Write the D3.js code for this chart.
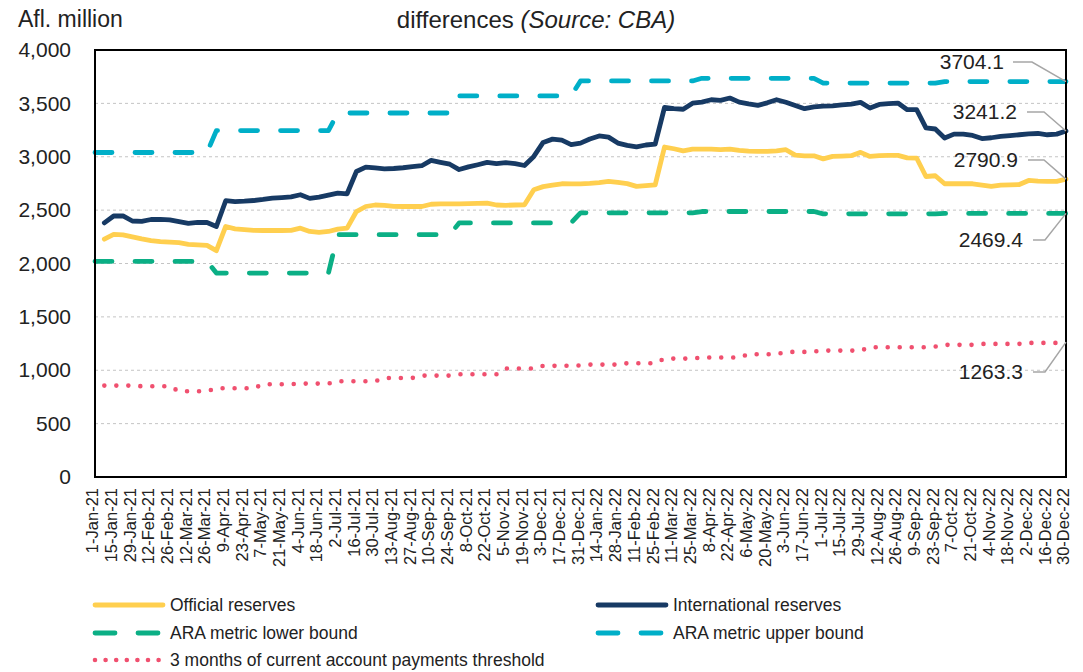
<!DOCTYPE html>
<html>
<head>
<meta charset="utf-8">
<script src="https://cdn.jsdelivr.net/npm/d3@7/dist/d3.min.js"></script>
<style>
  body { margin: 0; background: #fff; }
  svg { display: block; font-family: "Liberation Sans", Arial, sans-serif; }
</style>
</head>
<body>
<svg id="chart" width="1083" height="672"></svg>
<script>
const WEEKS = [
    "1-Jan-21", "8-Jan-21", "15-Jan-21", "22-Jan-21", "29-Jan-21", "5-Feb-21", "12-Feb-21", "19-Feb-21", "26-Feb-21",
    "5-Mar-21", "12-Mar-21", "19-Mar-21", "26-Mar-21", "2-Apr-21", "9-Apr-21", "16-Apr-21", "23-Apr-21", "30-Apr-21",
    "7-May-21", "14-May-21", "21-May-21", "28-May-21", "4-Jun-21", "11-Jun-21", "18-Jun-21", "25-Jun-21",
    "2-Jul-21", "9-Jul-21", "16-Jul-21", "23-Jul-21", "30-Jul-21", "6-Aug-21", "13-Aug-21", "20-Aug-21", "27-Aug-21",
    "3-Sep-21", "10-Sep-21", "17-Sep-21", "24-Sep-21", "1-Oct-21", "8-Oct-21", "15-Oct-21", "22-Oct-21", "29-Oct-21",
    "5-Nov-21", "12-Nov-21", "19-Nov-21", "26-Nov-21", "3-Dec-21", "10-Dec-21", "17-Dec-21", "24-Dec-21", "31-Dec-21",
    "7-Jan-22", "14-Jan-22", "21-Jan-22", "28-Jan-22", "4-Feb-22", "11-Feb-22", "18-Feb-22", "25-Feb-22",
    "4-Mar-22", "11-Mar-22", "18-Mar-22", "25-Mar-22", "1-Apr-22", "8-Apr-22", "15-Apr-22", "22-Apr-22", "29-Apr-22",
    "6-May-22", "13-May-22", "20-May-22", "27-May-22", "3-Jun-22", "10-Jun-22", "17-Jun-22", "24-Jun-22",
    "1-Jul-22", "8-Jul-22", "15-Jul-22", "22-Jul-22", "29-Jul-22", "5-Aug-22", "12-Aug-22", "19-Aug-22", "26-Aug-22",
    "2-Sep-22", "9-Sep-22", "16-Sep-22", "23-Sep-22", "30-Sep-22", "7-Oct-22", "14-Oct-22", "21-Oct-22", "28-Oct-22",
    "4-Nov-22", "11-Nov-22", "18-Nov-22", "25-Nov-22", "2-Dec-22", "9-Dec-22", "16-Dec-22", "23-Dec-22", "30-Dec-22"
];

const OFFICIAL = [
    null, 2228, 2272, 2268, 2250, 2230, 2215, 2205, 2200, 2195, 2180, 2175, 2170, 2120,
    2347, 2325, 2318, 2310, 2309, 2309, 2309, 2310, 2331, 2300, 2292, 2300, 2322, 2331,
    2487, 2534, 2548, 2545, 2536, 2534, 2534, 2534, 2555, 2559, 2559, 2559, 2561, 2563, 2566,
    2548, 2545, 2548, 2550, 2691, 2720, 2735, 2747, 2745, 2746, 2751, 2758, 2769, 2760, 2748,
    2723, 2730, 2737, 3091, 3075, 3055, 3072, 3072, 3072, 3066, 3072, 3060, 3052, 3050, 3050,
    3055, 3066, 3015, 3009, 3009, 2980, 3003, 3006, 3010, 3041, 3003, 3010, 3013, 3013, 2990,
    2988, 2815, 2822, 2747, 2747, 2747, 2747, 2735, 2722, 2735, 2737, 2740, 2778, 2772, 2769,
    2769, 2790.9
];

const INTERNATIONAL = [
    null, 2380, 2445, 2447, 2398, 2394, 2412, 2414, 2409, 2392, 2375, 2385, 2384, 2347,
    2588, 2580, 2584, 2590, 2600, 2613, 2618, 2624, 2644, 2610, 2622, 2640, 2660, 2653,
    2862, 2903, 2895, 2886, 2890, 2897, 2908, 2916, 2966, 2948, 2930, 2880, 2905, 2925, 2947,
    2935, 2945, 2935, 2918, 3003, 3134, 3165, 3155, 3113, 3128, 3166, 3195, 3184, 3128, 3106,
    3092, 3110, 3119, 3462, 3450, 3445, 3502, 3512, 3534, 3528, 3550, 3512, 3495, 3481, 3505,
    3534, 3510, 3480, 3450, 3467, 3474, 3477, 3485, 3494, 3509, 3456, 3490, 3497, 3503, 3441,
    3441, 3270, 3260, 3175, 3212, 3212, 3200, 3170, 3178, 3191, 3198, 3206, 3215, 3218, 3206,
    3212, 3241.2
];

const ARA_LOWER = [
    2020, 2020, 2020, 2020, 2020, 2020, 2020, 2020, 2020, 2020, 2020, 2020, 2020,
    1910, 1910, 1910, 1910, 1910, 1910, 1910, 1910, 1910, 1910, 1910, 1910, 1910,
    2270, 2270, 2270, 2270, 2270, 2270, 2270, 2270, 2270, 2270, 2270, 2270, 2270,
    2380, 2380, 2380, 2380, 2380, 2380, 2380, 2380, 2380, 2380, 2380, 2380, 2380,
    2475, 2475, 2475, 2475, 2475, 2475, 2475, 2475, 2475, 2475, 2475, 2475, 2475,
    2487, 2487, 2487, 2487, 2487, 2487, 2487, 2487, 2487, 2487, 2487, 2487, 2487,
    2465, 2465, 2465, 2465, 2465, 2465, 2465, 2465, 2465, 2465, 2465, 2465, 2465,
    2469.4, 2469.4, 2469.4, 2469.4, 2469.4, 2469.4, 2469.4, 2469.4, 2469.4, 2469.4, 2469.4, 2469.4, 2469.4, 2469.4
];

const ARA_UPPER = [
    3040, 3040, 3040, 3040, 3040, 3040, 3040, 3040, 3040, 3040, 3040, 3040, 3040,
    3245, 3245, 3245, 3245, 3245, 3245, 3245, 3245, 3245, 3245, 3245, 3245, 3245,
    3410, 3410, 3410, 3410, 3410, 3410, 3410, 3410, 3410, 3410, 3410, 3410, 3410,
    3570, 3570, 3570, 3570, 3570, 3570, 3570, 3570, 3570, 3570, 3570, 3570, 3570,
    3710, 3710, 3710, 3710, 3710, 3710, 3710, 3710, 3710, 3710, 3710, 3710, 3710,
    3735, 3735, 3735, 3735, 3735, 3735, 3735, 3735, 3735, 3735, 3735, 3735, 3735,
    3690, 3690, 3690, 3690, 3690, 3690, 3690, 3690, 3690, 3690, 3690, 3690, 3690,
    3704.1, 3704.1, 3704.1, 3704.1, 3704.1, 3704.1, 3704.1, 3704.1, 3704.1, 3704.1, 3704.1, 3704.1, 3704.1, 3704.1
];

const THRESHOLD = [
    null, 856, 856, 856, 856, 850, 850, 850, 850, 803, 803, 803, 803,
    831, 831, 831, 831, 831, 869, 869, 869, 869, 875, 875, 875, 875,
    897, 897, 897, 897, 897, 928, 928, 928, 928, 950, 950, 950, 950,
    963, 963, 963, 963, 963, 1016, 1016, 1016, 1016, 1041, 1041, 1041, 1044, 1044,
    1053, 1053, 1053, 1053, 1066, 1066, 1066, 1066, 1109, 1109, 1109, 1109,
    1119, 1119, 1119, 1119, 1119, 1150, 1150, 1150, 1150, 1172, 1172, 1172, 1175,
    1184, 1184, 1184, 1184, 1184, 1216, 1216, 1216, 1216, 1216, 1216, 1216, 1222,
    1238, 1238, 1238, 1238, 1247, 1247, 1247, 1247, 1247, 1256, 1256, 1256, 1256, 1263.3
];

const Y_TICKS = [0, 500, 1000, 1500, 2000, 2500, 3000, 3500, 4000];

const SERIES = [
    { name: "Official reserves", values: OFFICIAL, color: "#FFCF4F", dash: null },
    { name: "International reserves", values: INTERNATIONAL, color: "#173A64", dash: null },
    { name: "ARA metric lower bound", values: ARA_LOWER, color: "#0BAF85", dash: "17 23" },
    { name: "ARA metric upper bound", values: ARA_UPPER, color: "#00AFC8", dash: "17 23" },
    { name: "3 months of current account payments threshold", values: THRESHOLD, color: "#F0506F", dash: "0 12" }
];

// where each end-of-line value sits (text right edge, text y, elbow x)
const END_LABELS = [
    { values: ARA_UPPER, textX: 1004, textY: 62, fromX: 1013, elbowX: 1032 },
    { values: INTERNATIONAL, textX: 1017, textY: 112, fromX: 1027, elbowX: 1044 },
    { values: OFFICIAL, textX: 1018, textY: 160, fromX: 1028, elbowX: 1044 },
    { values: ARA_LOWER, textX: 1023, textY: 240, fromX: 1033, elbowX: 1045 },
    { values: THRESHOLD, textX: 1023, textY: 372, fromX: 1033, elbowX: 1045 }
];

const svg = d3.select("#chart");
const plot = { left: 95, right: 1066, top: 50, bottom: 477 };

const xScale = d3.scalePoint()
    .domain(WEEKS)
    .range([plot.left, plot.right]);

const yScale = d3.scaleLinear()
    .domain([0, 4000])
    .range([plot.bottom, plot.top]);

// title (only its second line is inside the picture)
const title = svg.append("text")
    .attr("x", 536)
    .attr("y", 28)
    .attr("text-anchor", "middle")
    .style("font-size", "24px")
    .attr("fill", "#222");
title.append("tspan").text("differences ");
title.append("tspan").style("font-style", "italic").text("(Source: CBA)");

svg.append("text")
    .attr("x", 18)
    .attr("y", 27)
    .style("font-size", "23px")
    .attr("fill", "#222")
    .text("Afl. million");

// gridlines
svg.append("g")
    .selectAll("line")
    .data(Y_TICKS.filter(t => t > 0 && t < 4000))
    .enter()
    .append("line")
    .attr("x1", plot.left)
    .attr("x2", plot.right)
    .attr("y1", d => yScale(d))
    .attr("y2", d => yScale(d))
    .attr("stroke", "#c4c4c4")
    .attr("stroke-width", 1)
    .attr("stroke-dasharray", "3 3");

// y axis labels
const yAxis = d3.axisLeft(yScale)
    .tickValues(Y_TICKS)
    .tickSize(0)
    .tickPadding(24)
    .tickFormat(d3.format(","));
svg.append("g")
    .attr("transform", `translate(${plot.left}, 0)`)
    .call(yAxis)
    .call(g => g.select(".domain").remove())
    .selectAll("text")
    .style("font-size", "21px")
    .style("font-family", "'Liberation Sans', Arial, sans-serif")
    .attr("fill", "#222");

// x axis labels
const xAxis = d3.axisBottom(xScale)
    .tickValues(WEEKS.filter((d, i) => i % 2 === 0))
    .tickSize(0);
svg.append("g")
    .attr("transform", `translate(0, ${plot.bottom})`)
    .call(xAxis)
    .call(g => g.select(".domain").remove())
    .selectAll("text")
    .attr("transform", "rotate(-90)")
    .attr("x", -11)
    .attr("y", 0)
    .attr("dy", "0.17em")
    .style("text-anchor", "end")
    .style("font-size", "16.5px")
    .style("font-family", "'Liberation Sans', Arial, sans-serif")
    .attr("fill", "#222");

// series lines
const lineFor = (values) => d3.line()
    .defined(d => d !== null)
    .x((d, i) => xScale(WEEKS[i]))
    .y(d => yScale(d))(values);

svg.append("g")
    .selectAll("path")
    .data(SERIES)
    .enter()
    .append("path")
    .attr("d", d => lineFor(d.values))
    .attr("fill", "none")
    .attr("stroke", d => d.color)
    .attr("stroke-width", d => d.dash === "0 12" ? 4.6 : 4.8)
    .attr("stroke-linecap", "round")
    .attr("stroke-linejoin", "round")
    .attr("stroke-dasharray", d => d.dash);

// plot border
svg.append("rect")
    .attr("x", plot.left)
    .attr("y", plot.top)
    .attr("width", plot.right - plot.left)
    .attr("height", plot.bottom - plot.top)
    .attr("fill", "none")
    .attr("stroke", "#000")
    .attr("stroke-width", 2);

// end-of-line value labels with leader lines
const lastIndex = WEEKS.length - 1;
END_LABELS.forEach(label => {
    const value = label.values[lastIndex];
    const px = xScale(WEEKS[lastIndex]);
    const py = yScale(value);
    svg.append("polyline")
        .attr("points", `${label.fromX},${label.textY} ${label.elbowX},${label.textY} ${px},${py}`)
        .attr("fill", "none")
        .attr("stroke", "#a6a6a6")
        .attr("stroke-width", 1.5);
    svg.append("text")
        .attr("x", label.textX)
        .attr("y", label.textY)
        .attr("dy", "0.35em")
        .attr("text-anchor", "end")
        .style("font-size", "21px")
        .attr("fill", "#222")
        .text(value.toFixed(1));
});

// legend
const LEGEND_POS = [
    { x: 95, y: 605 }, { x: 598, y: 605 },
    { x: 95, y: 633 }, { x: 598, y: 633 },
    { x: 95, y: 660 }
];
const legend = svg.append("g")
    .selectAll("g")
    .data(SERIES)
    .enter()
    .append("g")
    .attr("transform", (d, i) => `translate(${LEGEND_POS[i].x}, ${LEGEND_POS[i].y})`);
legend.append("line")
    .attr("x1", 0)
    .attr("x2", d => d.dash === "0 12" ? 64 : 68)
    .attr("stroke", d => d.color)
    .attr("stroke-width", d => d.dash === "0 12" ? 4.6 : 4.8)
    .attr("stroke-linecap", "round")
    .attr("stroke-dasharray", d => d.dash === "0 12" ? "0 10.6" : d.dash === null ? null : "20 23");
legend.append("text")
    .attr("x", 75)
    .attr("dy", "0.35em")
    .style("font-size", "17.5px")
    .attr("fill", "#222")
    .text(d => d.name);
</script>
</body>
</html>
